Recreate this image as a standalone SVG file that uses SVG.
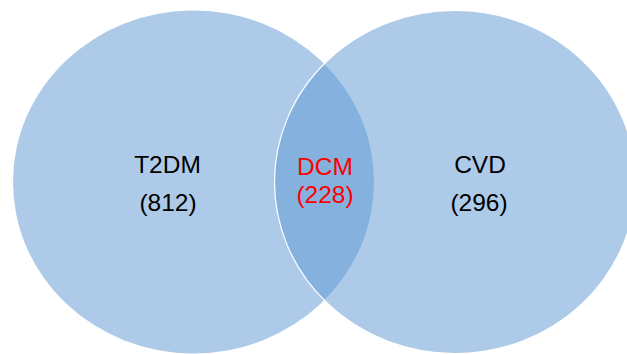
<svg xmlns="http://www.w3.org/2000/svg" width="627" height="354" viewBox="0 0 627 354">
<style>
.set{fill:#5B98D3;fill-opacity:0.5}
.lbl{font-family:"Liberation Sans",Arial,sans-serif;font-size:24.5px;text-anchor:middle;fill:#000}
.red{fill:#FF0000}
</style>
<rect width="627" height="354" fill="#fff"/>
<g id="t2dm">
<ellipse class="set" cx="193.5" cy="182" rx="180.5" ry="171.5"/>
<text class="lbl" x="167.5" y="173">T2DM</text>
<text class="lbl" x="168" y="211">(812)</text>
</g>
<g id="cvd">
<ellipse class="set" cx="455" cy="182" rx="180.5" ry="171.5" stroke="#fff" stroke-width="1.2"/>
<text class="lbl" x="480" y="173">CVD</text>
<text class="lbl" x="479" y="211">(296)</text>
</g>
<g id="dcm">
<text class="lbl red" x="325" y="175">DCM</text>
<text class="lbl red" x="325" y="203">(228)</text>
</g>
<g id="connectors"/>
</svg>
